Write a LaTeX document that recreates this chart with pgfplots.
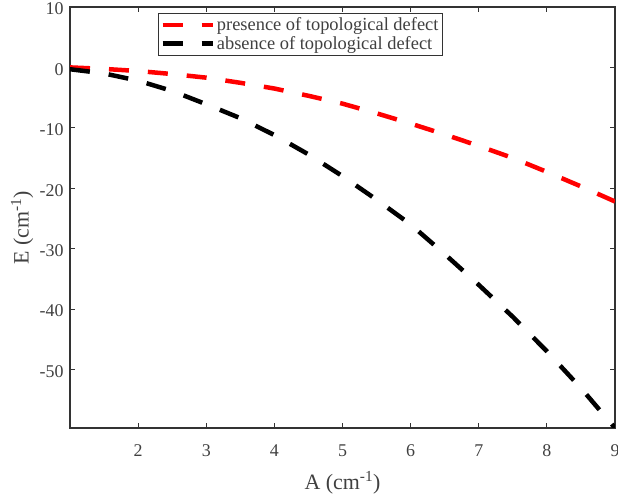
\documentclass[border=0pt]{standalone}
\usepackage{fontspec}
\setmainfont{Liberation Serif}
\usepackage{pgfplots}
\pgfplotsset{compat=1.18}
\definecolor{axgray}{HTML}{333333}
\definecolor{txtgray}{HTML}{404040}
\begin{document}
\begin{tikzpicture}
\begin{axis}[
  at={(0bp,0bp)}, anchor=south west,
  scale only axis,
  width=545bp, height=421bp,
  xmin=1, xmax=9, ymin=-59.7, ymax=10,
  xtick={2,3,4,5,6,7,8,9},
  ytick={-50,-40,-30,-20,-10,0,10},
  /pgf/number format/assume math mode=true,
  tick label style={font=\fontsize{18}{20}\selectfont, text=txtgray},
  xticklabel style={yshift=-13bp},
  yticklabel style={xshift=-3bp, yshift=-2bp},
  major tick length=5bp,
  tick style={axgray, line width=0.8bp},
  axis line style={axgray, line width=1.2bp},
  xlabel={A (cm\textsuperscript{-1})},
  ylabel={E (cm\textsuperscript{-1})},
  label style={font=\fontsize{22}{25}\selectfont, text=txtgray},
  xlabel style={at={(axis description cs:0.5,-0.13)}, anchor=center},
  ylabel style={at={(axis description cs:-0.088,0.475)}, anchor=center},
  legend style={at={(rel axis cs:0.1615,0.986)}, anchor=north west,
    draw=axgray, line width=0.8bp, fill=white,
    font=\fontsize{18.5}{20}\selectfont, text=txtgray,
    inner xsep=2bp, inner ysep=2.5bp, row sep=0bp,
    nodes={inner sep=2bp}},
  legend cell align=left,
  legend image code/.code={\draw[#1] (0bp,0bp) -- (50bp,0bp);},
  every axis plot/.append style={line width=4.5bp, dash pattern=on 20bp off 19bp},
]
\addplot[red, dash pattern=on 20bp off 19bp] coordinates {
(1,0) (1.5,-0.25) (2,-0.6) (2.5,-1.1) (3,-1.7) (3.5,-2.55) (4,-3.5) (4.5,-4.7)
(5,-6.0) (5.5,-7.6) (6,-9.3) (6.5,-11.1) (7,-13.0) (7.5,-15.0) (8,-17.3) (8.5,-19.7) (9,-22.2)};
\addlegendentry{presence of topological defect}
\addplot[black, dash pattern=on 20bp off 19bp] coordinates {
(1,-0.3) (1.5,-1.0) (2,-2.2) (2.5,-3.9) (3,-6.1) (3.5,-8.4) (4,-11.2) (4.5,-14.4)
(5,-18.0) (5.5,-21.9) (6,-26.0) (6.5,-30.9) (7,-36.0) (7.5,-41.3) (8,-47.0) (8.5,-53.1) (9,-59.7)};
\addlegendentry{absence of topological defect}
\end{axis}
\pgfresetboundingbox
\path (-70bp,-71bp) rectangle (548bp,428bp);
\end{tikzpicture}
\end{document}
